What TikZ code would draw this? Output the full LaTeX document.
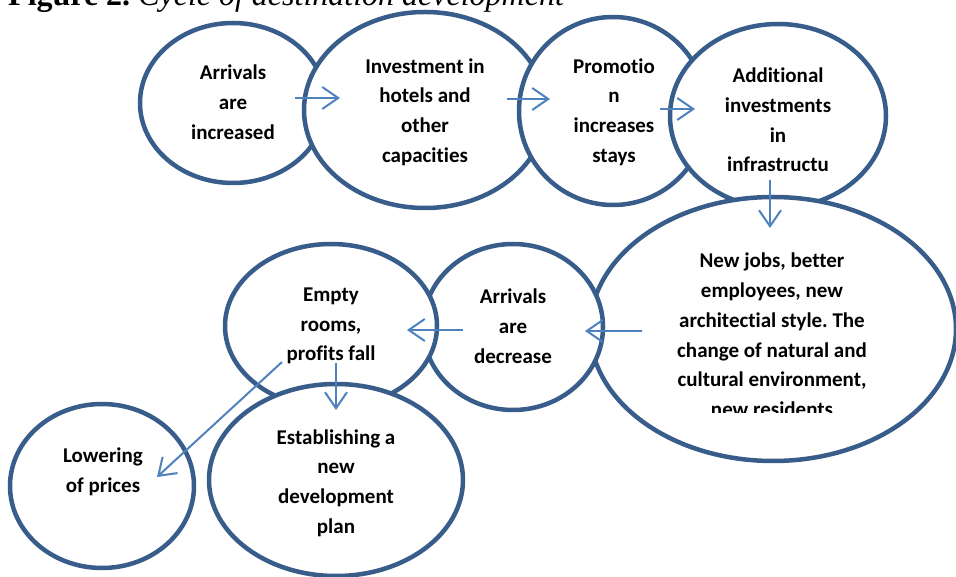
\documentclass[tikz,border=0pt]{standalone}
\usepackage{fontspec}
\setmainfont{Carlito}[Ligatures={NoCommon,NoContextual}]
\newfontfamily\captionfont{Liberation Serif}
\usetikzlibrary{shapes.geometric,arrows.meta,calc}
\definecolor{ringblue}{HTML}{385D8A}
\definecolor{arrowblue}{HTML}{4F81BD}
\frenchspacing

\begin{document}
\begin{tikzpicture}[x=1pt,y=1pt,
		stage/.style={ellipse, draw=ringblue, line width=4.5pt, fill=white, inner sep=0pt},
		lbl/.style={align=center, font=\fontsize{21}{29.8}\selectfont\bfseries, inner sep=0pt},
		flow/.style={draw=arrowblue, line width=2pt, -{Straight Barb[length=16pt,width=22pt]}}]
		\useasboundingbox (0,0) rectangle (956,576);
		\node[anchor=base west, inner sep=0pt, font=\captionfont\fontsize{32}{36}\selectfont] (caption) at (8,570.3) {\textbf{Figure 2.} \textit{Cycle of destination development}};
		\node[stage, minimum width=186pt, minimum height=160pt] (arrInc) at (233,473) {};
		\node[stage, minimum width=242pt, minimum height=196pt] (invest) at (425,466) {};
		\node[stage, minimum width=188pt, minimum height=188pt] (promo) at (613,465) {};
		\node[stage, minimum width=216pt, minimum height=184pt] (infra) at (778,460) {};
		\node[stage, minimum width=366pt, minimum height=264pt] (jobs) at (773,247) {};
		\node[stage, minimum width=180pt, minimum height=166pt] (arrDec) at (513,249) {};
		\node[stage, minimum width=212pt, minimum height=164pt] (empty) at (331,250) {};
		\node[stage, minimum width=254pt, minimum height=192pt] (plan) at (336,96) {};
		\node[stage, minimum width=184pt, minimum height=164pt] (lower) at (102,90) {};
		\node[lbl] (arrIncT) at ($(arrInc)+(0,1)$) {Arrivals\\are\\increased};
		\node[lbl] (investT) at ($(invest)+(0,-2)$) {Investment in\\hotels and\\other\\capacities};
		\node[lbl] (promoT) at ($(promo)+(1,-1)$) {Promotio\\n\\increases\\stays};
		\node[lbl] (infraT) at ($(infra)+(0,-4)$) {Additional\\investments\\in\\infrastructu};
		\begin{scope}
			\clip (560,163) rectangle (956,420);
			\node[lbl] (jobsT) at ($(jobs)+(-1,-6)$) {New jobs, better\\employees, new\\architectial style. The\\change of natural and\\cultural environment,\\new residents};
		\end{scope}
		\node[lbl] (arrDecT) at ($(arrDec)+(0,1)$) {Arrivals\\are\\decrease};
		\node[lbl] (emptyT) at ($(empty)+(0,0)$) {Empty\\rooms,\\profits fall};
		\node[lbl] (planT) at ($(plan)+(0,-3)$) {Establishing a\\new\\development\\plan};
		\node[lbl] (lowerT) at ($(lower)+(1,14)$) {Lowering\\of prices};
		\draw[flow] ($(arrInc)+(62,5)$) -- ($(invest)+(-85,12)$);
		\draw[flow] ($(invest)+(82,11)$) -- ($(promo)+(-63,12)$);
		\draw[flow] ($(promo)+(47,2)$) -- ($(infra)+(-83,7)$);
		\draw[flow] ($(infra)+(-8,-64)$) -- ($(jobs)+(-3,101)$);
		\draw[flow] ($(jobs)+(-131,-2)$) -- ($(arrDec)+(72,-4)$);
		\draw[flow] ($(arrDec)+(-50,-3)$) -- ($(empty)+(76,-4)$);
		\draw[flow] ($(empty)+(5,-37)$) -- ($(plan)+(0,70)$);
		\draw[flow] ($(empty)+(-49,-36)$) -- ($(lower)+(55,9)$);
\end{tikzpicture}
\end{document}
